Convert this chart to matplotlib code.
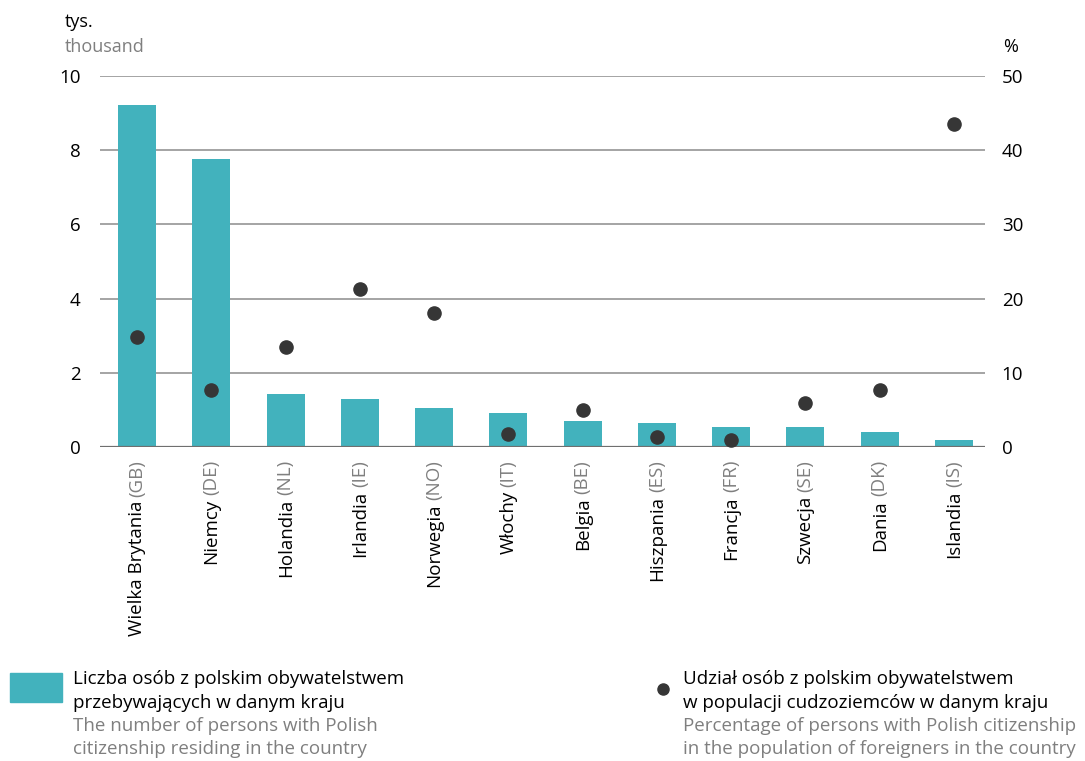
import matplotlib
matplotlib.use("Agg")
import matplotlib.pyplot as plt
import matplotlib.transforms as mtransforms

plt.rcParams["font.family"] = ["Open Sans", "DejaVu Sans"]

# Data
countries = ["Wielka Brytania", "Niemcy", "Holandia", "Irlandia", "Norwegia", "Włochy",
             "Belgia", "Hiszpania", "Francja", "Szwecja", "Dania", "Islandia"]
codes = ["(GB)", "(DE)", "(NL)", "(IE)", "(NO)", "(IT)",
         "(BE)", "(ES)", "(FR)", "(SE)", "(DK)", "(IS)"]
persons_thousand = [9.22, 7.75, 1.44, 1.30, 1.06, 0.93, 0.71, 0.66, 0.55, 0.55, 0.41, 0.20]
share_percent = [14.8, 7.7, 13.5, 21.3, 18.0, 1.7, 5.0, 1.3, 1.0, 5.9, 7.7, 43.5]

teal = "#42B2BD"
dot = "#363636"
gray_txt = "#7f7f7f"
grid_c = "#8c8c8c"

fig = plt.figure(figsize=(10.85, 7.61), dpi=100)
ax = fig.add_axes([0.0922, 0.4126, 0.8157, 0.4875])
ax2 = ax.twinx()

x = list(range(len(countries)))
ax.bar(x, persons_thousand, width=0.51, color=teal, zorder=2)
ax2.scatter(x, share_percent, s=90, color=dot, zorder=3)

ax.set_xlim(-0.5, 11.42)
ax.set_ylim(0, 10)
ax2.set_ylim(0, 50)
ax.set_yticks([0, 2, 4, 6, 8, 10])
ax2.set_yticks([0, 10, 20, 30, 40, 50])
for y in [2, 4, 6, 8, 10]:
    ax.axhline(y, color=grid_c, lw=1.1, zorder=1)
ax.axhline(0, color="#6f6f6f", lw=1.6, zorder=4)

for a in (ax, ax2):
    for s in a.spines.values():
        s.set_visible(False)
    a.tick_params(length=0, labelsize=13.5, colors="black")
ax.tick_params(axis="y", pad=14)
ax2.tick_params(axis="y", pad=12)
ax.set_xticks([])
ax2.set_zorder(ax.get_zorder() + 1)
ax2.patch.set_visible(False)

# rotated two-colour category labels
fig.canvas.draw()
r = fig.canvas.get_renderer()
trans = mtransforms.blended_transform_factory(ax.transData, ax.transAxes)
for i, (c, code) in enumerate(zip(countries, codes)):
    t = ax.text(i, -0.035, code, rotation=90, ha="center", va="top", fontsize=13.5,
                color=gray_txt, transform=trans)
    h = t.get_window_extent(r).height
    off = mtransforms.offset_copy(trans, fig=fig, x=0, y=-(h + 4), units="dots")
    ax.text(i, -0.035, c, rotation=90, ha="center", va="top", fontsize=13.5,
            color="black", transform=off)

# axis unit labels
fig.text(65 / 1085, 1 - 22 / 761, "tys.", fontsize=13, color="black", va="center")
fig.text(65 / 1085, 1 - 47 / 761, "thousand", fontsize=13, color=gray_txt, va="center")
fig.text(1003 / 1085, 1 - 47 / 761, "%", fontsize=13, color="black", va="center")

# legend
fig.patches.append(plt.Rectangle((10 / 1085, 1 - 702 / 761), 52 / 1085, 29 / 761,
                                 transform=fig.transFigure, color=teal))
fig.add_artist(plt.Line2D([663 / 1085], [1 - 689 / 761], marker="o", markersize=8,
                          color=dot, transform=fig.transFigure))
left_lines = [("Liczba osób z polskim obywatelstwem", "black"),
              ("przebywających w danym kraju", "black"),
              ("The number of persons with Polish", gray_txt),
              ("citizenship residing in the country", gray_txt)]
right_lines = [("Udział osób z polskim obywatelstwem", "black"),
               ("w populacji cudzoziemców w danym kraju", "black"),
               ("Percentage of persons with Polish citizenship", gray_txt),
               ("in the population of foreigners in the country", gray_txt)]
for k, (txt, col) in enumerate(left_lines):
    fig.text(73 / 1085, 1 - (679 + 23.5 * k) / 761, txt, fontsize=13.5, color=col,
             va="center")
for k, (txt, col) in enumerate(right_lines):
    fig.text(683 / 1085, 1 - (679 + 23.5 * k) / 761, txt, fontsize=13.5, color=col,
             va="center")

fig.savefig("out.png", dpi=100)
